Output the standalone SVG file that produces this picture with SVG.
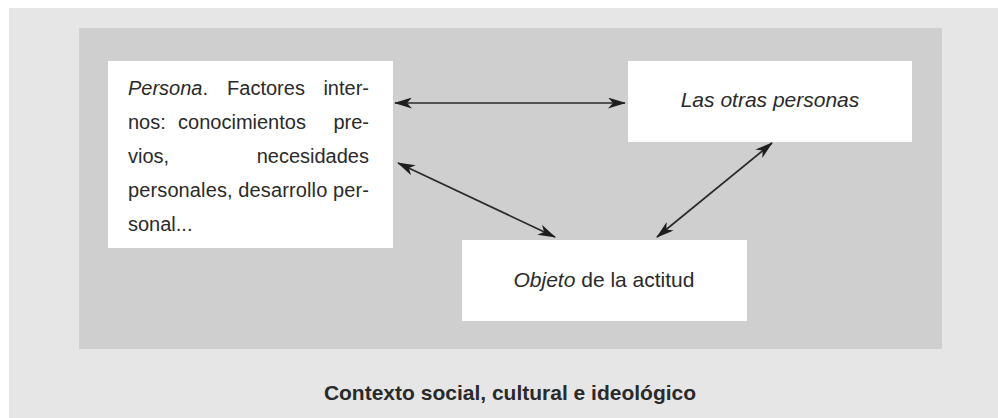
<svg xmlns="http://www.w3.org/2000/svg" width="998" height="418" viewBox="0 0 998 418">
<style>
.t{font-family:"Liberation Sans",Arial,sans-serif;font-size:20px;fill:#2a2a2a}
.m{text-anchor:middle}
.e{text-anchor:end}
.i{font-style:italic}
.n{font-size:21px}
.b{font-weight:bold;font-size:21px}
.box{fill:#ffffff}
.c{stroke:#2a2a2a;stroke-width:1.7;fill:none;marker-start:url(#ah);marker-end:url(#ah)}
</style>
<defs>
<marker id="ah" viewBox="0 0 18 11" refX="17" refY="5.5" markerWidth="18" markerHeight="11" markerUnits="userSpaceOnUse" orient="auto-start-reverse">
<path d="M0,0 L18,5.5 L0,11 L5,5.5 Z" fill="#1e1e1e"/>
</marker>
</defs>
<rect x="0" y="0" width="998" height="418" fill="#ffffff"/>
<rect x="9" y="8" width="989" height="410" fill="#e6e6e6"/>
<rect x="79" y="28" width="863" height="321" fill="#cfcfcf"/>
<g id="persona">
<rect class="box" x="108" y="61" width="285" height="187"/>
<text class="t" x="128" y="95"><tspan class="i">Persona</tspan>.</text>
<text class="t m" x="266" y="95">Factores</text>
<text class="t e" x="369" y="95">inter-</text>
<text class="t" x="128" y="129">nos:</text>
<text class="t m" x="242" y="129">conocimientos</text>
<text class="t e" x="369" y="129">pre-</text>
<text class="t" x="128" y="163">vios,</text>
<text class="t e" x="369" y="163">necesidades</text>
<text class="t" x="128" y="197" textLength="241" lengthAdjust="spacing">personales, desarrollo per-</text>
<text class="t" x="128" y="231">sonal...</text>
</g>
<g id="otras">
<rect class="box" x="628" y="61" width="284" height="81"/>
<text class="t n i m" x="770" y="107">Las otras personas</text>
</g>
<g id="objeto">
<rect class="box" x="462" y="240" width="285" height="81"/>
<text class="t n m" x="604" y="287"><tspan class="i">Objeto</tspan> de la actitud</text>
</g>
<g id="connectors">
<line class="c" x1="395" y1="103" x2="625" y2="103"/>
<line class="c" x1="398" y1="163" x2="555" y2="237"/>
<line class="c" x1="657" y1="237" x2="772" y2="143"/>
</g>
<text class="t b m" x="510" y="400">Contexto social, cultural e ideológico</text>
</svg>
